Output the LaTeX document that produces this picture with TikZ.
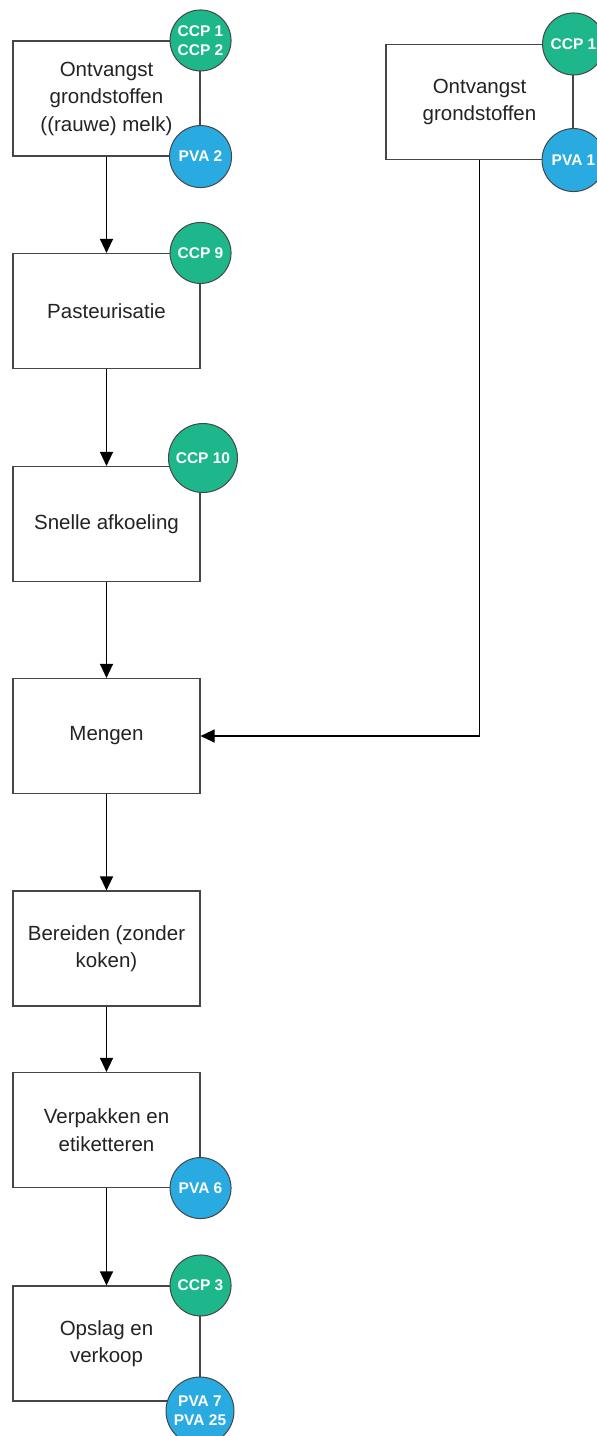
\documentclass[tikz,border=0pt]{standalone}
\usepackage{fontspec}
\setmainfont{Liberation Sans}
\usetikzlibrary{arrows.meta}
\definecolor{ccpgreen}{RGB}{30,183,140}
\definecolor{pvablue}{RGB}{41,171,226}
\definecolor{edgegrey}{RGB}{70,70,70}
\definecolor{txtgrey}{RGB}{35,35,35}
\tikzset{
  stepbox/.style={draw=edgegrey, line width=1.1pt, fill=white, rectangle,
    minimum width=187pt, minimum height=115pt, inner sep=0pt, align=center,
    text=txtgrey, font=\fontsize{20.5}{27.5}\selectfont},
  badge/.style={circle, draw=edgegrey, line width=1pt, inner sep=0pt,
    minimum size=#1, text=white, align=center,
    font=\bfseries\fontsize{15.5}{19}\selectfont},
  ccp/.style={badge=#1, fill=ccpgreen},
  pva/.style={badge=#1, fill=pvablue},
  flow/.style={draw=black, line width=1.1pt, -{Triangle[length=14pt,width=13pt]}}
}
\begin{document}
\begin{tikzpicture}[x=1pt,y=-1pt]
\useasboundingbox (0,0) rectangle (597,1436);
% process steps, left column
\node[stepbox] (b1) at (106.5,98.5) {Ontvangst\\grondstoffen\\((rauwe) melk)};
\node[stepbox] (b2) at (106.5,311) {Pasteurisatie};
\node[stepbox] (b3) at (106.5,524) {Snelle afkoeling};
\node[stepbox] (b4) at (106.5,736) {Mengen};
\node[stepbox] (b5) at (106.5,948.5) {Bereiden (zonder\\koken)};
\node[stepbox] (b6) at (106.5,1130) {Verpakken en\\etiketteren};
\node[stepbox] (b7) at (106.5,1343.5) {Opslag en\\verkoop};
% second intake, right column
\node[stepbox] (rb) at (479.5,102) {Ontvangst\\grondstoffen};
% flow connectors
\draw[flow] (b1.south) -- (b2.north);
\draw[flow] (b2.south) -- (b3.north);
\draw[flow] (b3.south) -- (b4.north);
\draw[flow] (b4.south) -- (b5.north);
\draw[flow] (b5.south) -- (b6.north);
\draw[flow] (b6.south) -- (b7.north);
\draw[flow] (rb.south) |- (b4.east);
% control points and prerequisite badges
\node[ccp=61pt] (k1) at (b1.north east) {CCP 1\\CCP 2};
\node[pva=62pt] (p2) at (b1.south east) {PVA 2};
\node[ccp=61pt] (k9) at (b2.north east) {CCP 9};
\node[ccp=69pt] (k10) at (203,458) {CCP 10};
\node[pva=61pt] (p6) at (b6.south east) {PVA 6};
\node[ccp=61pt] (k3) at (b7.north east) {CCP 3};
\node[pva=68pt] (p7) at (200,1411) {PVA 7\\PVA 25};
\node[ccp=62pt] (rk1) at (rb.north east) {CCP 1};
\node[pva=63pt] (rp1) at (rb.south east) {PVA 1};
\end{tikzpicture}
\end{document}
